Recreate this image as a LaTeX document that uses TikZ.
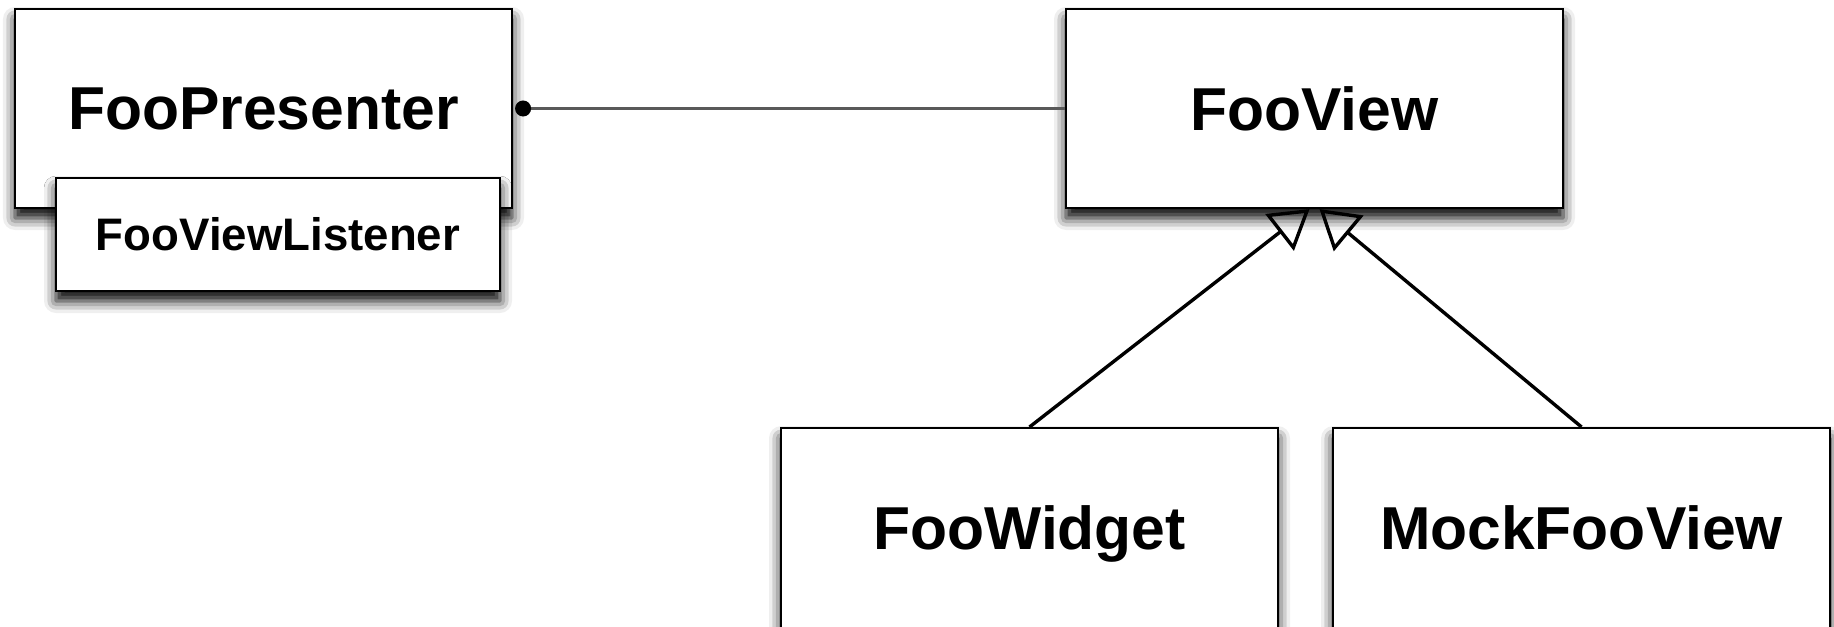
\documentclass[tikz,border=0pt]{standalone}
\usepackage{fontspec}
\setmainfont{Liberation Sans}
\usetikzlibrary{arrows.meta,calc,shadows.blur}
\begin{document}
\begin{tikzpicture}[x=0.5pt,y=-0.5pt,
  cls/.style={draw=black, line width=1.1pt, fill=white, inner sep=0pt,
    minimum width=248.5pt, minimum height=99.5pt,
    font=\bfseries\fontsize{30.3pt}{36pt}\selectfont,
    blur shadow={shadow xshift=0pt, shadow yshift=-5pt, shadow blur radius=6pt, shadow opacity=100}},
  iface/.style={cls, minimum width=222pt, minimum height=56.5pt,
    font=\bfseries\fontsize{22.8pt}{27pt}\selectfont},
  sub/.style={cls, anchor=north, minimum height=121pt},
  assoc/.style={draw=black!65, line width=1.2pt, {Circle[length=8pt,color=black]}-, shorten <=1pt},
  gen/.style={draw=black, line width=1.7pt, -{Triangle[open,length=19pt,width=23pt]}}]
\useasboundingbox (0,0) rectangle (1834,626);
\node[cls] (fp) at (263.5,108.5) {FooPresenter};
\node[iface] (fvl) at (278,234.5) {FooViewListener};
\node[cls] (fv) at (1314.5,108.5) {FooView};
\node[sub] (fw) at (1029.5,427) {\smash{FooWidget}};
\node[sub] (mfv) at (1581.5,427) {\smash{MockFooView}};
\draw[assoc] (fp.east) -- (fv.west);
\draw[gen] (fw.north) -- ($(fv.south)+(-2.5pt,0)$);
\draw[gen] (mfv.north) -- ($(fv.south)+(2.5pt,0)$);
\end{tikzpicture}
\end{document}
